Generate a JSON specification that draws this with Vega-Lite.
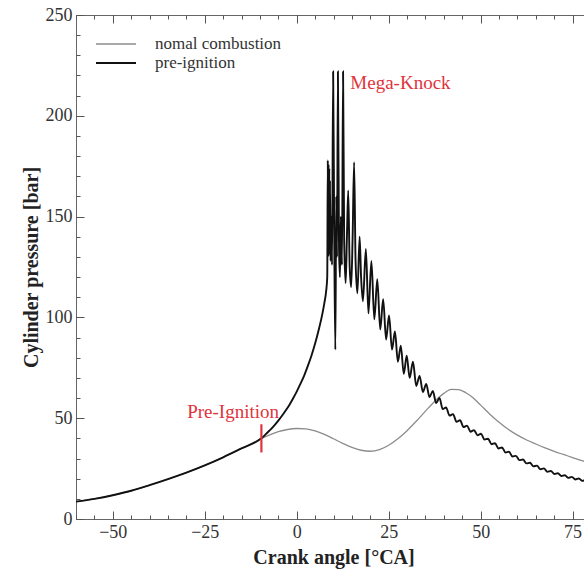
{
  "$schema": "https://vega.github.io/schema/vega-lite/v6.json",
  "width": 515,
  "height": 504,
  "autosize": {"type": "none"},
  "padding": {"left": 76, "top": 15, "right": 0, "bottom": 57},
  "background": "white",
  "config": {
    "view": {"stroke": "#666", "strokeWidth": 1},
    "axis": {"grid": false, "domain": false, "labelFont": "Liberation Serif", "labelFontSize": 18, "labelColor": "#333", "tickColor": "#555", "titleFont": "Liberation Serif", "titleFontSize": 20, "titleFontWeight": "bold", "titleColor": "#222"}
  },
  "datasets": {
    "curves": [
      {"series": "nomal combustion", "ca": -60, "p": 8.6},
      {"series": "nomal combustion", "ca": -55, "p": 10},
      {"series": "nomal combustion", "ca": -50, "p": 11.8},
      {"series": "nomal combustion", "ca": -45, "p": 14},
      {"series": "nomal combustion", "ca": -40, "p": 16.8},
      {"series": "nomal combustion", "ca": -35, "p": 19.8},
      {"series": "nomal combustion", "ca": -30, "p": 23},
      {"series": "nomal combustion", "ca": -25, "p": 26.6},
      {"series": "nomal combustion", "ca": -20, "p": 30.6},
      {"series": "nomal combustion", "ca": -15, "p": 35},
      {"series": "nomal combustion", "ca": -10, "p": 39.5},
      {"series": "nomal combustion", "ca": -7.5, "p": 41.6},
      {"series": "nomal combustion", "ca": -5, "p": 43.3},
      {"series": "nomal combustion", "ca": -2.5, "p": 44.4},
      {"series": "nomal combustion", "ca": 0, "p": 44.9},
      {"series": "nomal combustion", "ca": 2.5, "p": 44.7},
      {"series": "nomal combustion", "ca": 5, "p": 43.7},
      {"series": "nomal combustion", "ca": 7.5, "p": 42},
      {"series": "nomal combustion", "ca": 10, "p": 39.8},
      {"series": "nomal combustion", "ca": 12.5, "p": 37.5},
      {"series": "nomal combustion", "ca": 15, "p": 35.5},
      {"series": "nomal combustion", "ca": 17.5, "p": 34.1},
      {"series": "nomal combustion", "ca": 20, "p": 33.6},
      {"series": "nomal combustion", "ca": 22.5, "p": 34.4},
      {"series": "nomal combustion", "ca": 25, "p": 36.6},
      {"series": "nomal combustion", "ca": 27.5, "p": 39.8},
      {"series": "nomal combustion", "ca": 30, "p": 43.8},
      {"series": "nomal combustion", "ca": 32.5, "p": 48.5},
      {"series": "nomal combustion", "ca": 35, "p": 53.5},
      {"series": "nomal combustion", "ca": 37.5, "p": 58.3},
      {"series": "nomal combustion", "ca": 40, "p": 62.3},
      {"series": "nomal combustion", "ca": 42, "p": 64.3},
      {"series": "nomal combustion", "ca": 44, "p": 64.2},
      {"series": "nomal combustion", "ca": 46, "p": 62.6},
      {"series": "nomal combustion", "ca": 48, "p": 60},
      {"series": "nomal combustion", "ca": 50, "p": 56.5},
      {"series": "nomal combustion", "ca": 52.5, "p": 52},
      {"series": "nomal combustion", "ca": 55, "p": 48},
      {"series": "nomal combustion", "ca": 57.5, "p": 44.5},
      {"series": "nomal combustion", "ca": 60, "p": 41.6},
      {"series": "nomal combustion", "ca": 62.5, "p": 39.2},
      {"series": "nomal combustion", "ca": 65, "p": 37.2},
      {"series": "nomal combustion", "ca": 67.5, "p": 35.3},
      {"series": "nomal combustion", "ca": 70, "p": 33.5},
      {"series": "nomal combustion", "ca": 72.5, "p": 32},
      {"series": "nomal combustion", "ca": 75, "p": 30.5},
      {"series": "nomal combustion", "ca": 77.5, "p": 29},
      {"series": "nomal combustion", "ca": 80, "p": 27.6},
      {"series": "pre-ignition", "ca": -60, "p": 8.6},
      {"series": "pre-ignition", "ca": -55, "p": 10},
      {"series": "pre-ignition", "ca": -50, "p": 11.8},
      {"series": "pre-ignition", "ca": -45, "p": 14},
      {"series": "pre-ignition", "ca": -40, "p": 16.8},
      {"series": "pre-ignition", "ca": -35, "p": 19.8},
      {"series": "pre-ignition", "ca": -30, "p": 23},
      {"series": "pre-ignition", "ca": -25, "p": 26.6},
      {"series": "pre-ignition", "ca": -20, "p": 30.6},
      {"series": "pre-ignition", "ca": -15, "p": 35},
      {"series": "pre-ignition", "ca": -10, "p": 39.5},
      {"series": "pre-ignition", "ca": -9, "p": 41},
      {"series": "pre-ignition", "ca": -8, "p": 42.8},
      {"series": "pre-ignition", "ca": -7, "p": 44.6},
      {"series": "pre-ignition", "ca": -6, "p": 46.6},
      {"series": "pre-ignition", "ca": -5, "p": 48.8},
      {"series": "pre-ignition", "ca": -4, "p": 51.2},
      {"series": "pre-ignition", "ca": -3, "p": 53.8},
      {"series": "pre-ignition", "ca": -2, "p": 56.6},
      {"series": "pre-ignition", "ca": -1, "p": 59.8},
      {"series": "pre-ignition", "ca": 0, "p": 63.2},
      {"series": "pre-ignition", "ca": 1, "p": 67},
      {"series": "pre-ignition", "ca": 2, "p": 71},
      {"series": "pre-ignition", "ca": 3, "p": 75.8},
      {"series": "pre-ignition", "ca": 4, "p": 81},
      {"series": "pre-ignition", "ca": 5, "p": 87},
      {"series": "pre-ignition", "ca": 6, "p": 94},
      {"series": "pre-ignition", "ca": 7, "p": 102},
      {"series": "pre-ignition", "ca": 7.5, "p": 107},
      {"series": "pre-ignition", "ca": 8, "p": 113},
      {"series": "pre-ignition", "ca": 8.3, "p": 120},
      {"series": "pre-ignition", "ca": 8.45, "p": 178},
      {"series": "pre-ignition", "ca": 8.55, "p": 130},
      {"series": "pre-ignition", "ca": 8.65, "p": 176},
      {"series": "pre-ignition", "ca": 8.75, "p": 133},
      {"series": "pre-ignition", "ca": 8.85, "p": 174},
      {"series": "pre-ignition", "ca": 8.95, "p": 131},
      {"series": "pre-ignition", "ca": 9.05, "p": 168},
      {"series": "pre-ignition", "ca": 9.2, "p": 128},
      {"series": "pre-ignition", "ca": 9.4, "p": 150},
      {"series": "pre-ignition", "ca": 9.6, "p": 126},
      {"series": "pre-ignition", "ca": 9.9, "p": 222},
      {"series": "pre-ignition", "ca": 10.2, "p": 140},
      {"series": "pre-ignition", "ca": 10.5, "p": 84},
      {"series": "pre-ignition", "ca": 10.75, "p": 160},
      {"series": "pre-ignition", "ca": 10.95, "p": 130},
      {"series": "pre-ignition", "ca": 11.2, "p": 222},
      {"series": "pre-ignition", "ca": 11.5, "p": 135},
      {"series": "pre-ignition", "ca": 11.75, "p": 120},
      {"series": "pre-ignition", "ca": 12.0, "p": 150},
      {"series": "pre-ignition", "ca": 12.3, "p": 126},
      {"series": "pre-ignition", "ca": 12.6, "p": 222},
      {"series": "pre-ignition", "ca": 12.9, "p": 138},
      {"series": "pre-ignition", "ca": 13.3, "p": 117},
      {"series": "pre-ignition", "ca": 13.65, "p": 140},
      {"series": "pre-ignition", "ca": 14.0, "p": 163},
      {"series": "pre-ignition", "ca": 14.4, "p": 125},
      {"series": "pre-ignition", "ca": 14.8, "p": 115},
      {"series": "pre-ignition", "ca": 15.2, "p": 140},
      {"series": "pre-ignition", "ca": 15.6, "p": 177},
      {"series": "pre-ignition", "ca": 16.0, "p": 128},
      {"series": "pre-ignition", "ca": 16.5, "p": 112},
      {"series": "pre-ignition", "ca": 17.1, "p": 140},
      {"series": "pre-ignition", "ca": 17.5, "p": 120},
      {"series": "pre-ignition", "ca": 18.0, "p": 108},
      {"series": "pre-ignition", "ca": 18.8, "p": 134},
      {"series": "pre-ignition", "ca": 19.5, "p": 102},
      {"series": "pre-ignition", "ca": 20.3, "p": 128},
      {"series": "pre-ignition", "ca": 21.1, "p": 99},
      {"series": "pre-ignition", "ca": 21.9, "p": 119},
      {"series": "pre-ignition", "ca": 22.7, "p": 94},
      {"series": "pre-ignition", "ca": 23.5, "p": 109},
      {"series": "pre-ignition", "ca": 24.3, "p": 89},
      {"series": "pre-ignition", "ca": 25.1, "p": 101},
      {"series": "pre-ignition", "ca": 25.9, "p": 84},
      {"series": "pre-ignition", "ca": 26.7, "p": 93},
      {"series": "pre-ignition", "ca": 27.5, "p": 78},
      {"series": "pre-ignition", "ca": 28.3, "p": 86},
      {"series": "pre-ignition", "ca": 29.1, "p": 72},
      {"series": "pre-ignition", "ca": 29.9, "p": 81},
      {"series": "pre-ignition", "ca": 30.7, "p": 70},
      {"series": "pre-ignition", "ca": 31.6, "p": 78},
      {"series": "pre-ignition", "ca": 32.5, "p": 66},
      {"series": "pre-ignition", "ca": 33.4, "p": 71},
      {"series": "pre-ignition", "ca": 34.3, "p": 63},
      {"series": "pre-ignition", "ca": 35.2, "p": 67},
      {"series": "pre-ignition", "ca": 36.1, "p": 60.5},
      {"series": "pre-ignition", "ca": 37.0, "p": 63.5},
      {"series": "pre-ignition", "ca": 37.9, "p": 57.5},
      {"series": "pre-ignition", "ca": 38.8, "p": 60},
      {"series": "pre-ignition", "ca": 39.7, "p": 54.5},
      {"series": "pre-ignition", "ca": 40.6, "p": 55.3},
      {"series": "pre-ignition", "ca": 41.55, "p": 51.3},
      {"series": "pre-ignition", "ca": 42.5, "p": 52},
      {"series": "pre-ignition", "ca": 43.45, "p": 48.2},
      {"series": "pre-ignition", "ca": 44.4, "p": 49},
      {"series": "pre-ignition", "ca": 45.35, "p": 45.6},
      {"series": "pre-ignition", "ca": 46.3, "p": 46.3},
      {"series": "pre-ignition", "ca": 47.25, "p": 43.3},
      {"series": "pre-ignition", "ca": 48.2, "p": 44.1},
      {"series": "pre-ignition", "ca": 49.15, "p": 41.5},
      {"series": "pre-ignition", "ca": 50.1, "p": 42.3},
      {"series": "pre-ignition", "ca": 51.05, "p": 39.4},
      {"series": "pre-ignition", "ca": 52.0, "p": 39.8},
      {"series": "pre-ignition", "ca": 52.95, "p": 37.1},
      {"series": "pre-ignition", "ca": 53.9, "p": 37.6},
      {"series": "pre-ignition", "ca": 54.85, "p": 35},
      {"series": "pre-ignition", "ca": 55.8, "p": 35.5},
      {"series": "pre-ignition", "ca": 56.75, "p": 33},
      {"series": "pre-ignition", "ca": 57.7, "p": 33.4},
      {"series": "pre-ignition", "ca": 58.65, "p": 31},
      {"series": "pre-ignition", "ca": 59.6, "p": 31.3},
      {"series": "pre-ignition", "ca": 60.55, "p": 29.2},
      {"series": "pre-ignition", "ca": 61.5, "p": 29.5},
      {"series": "pre-ignition", "ca": 62.45, "p": 27.6},
      {"series": "pre-ignition", "ca": 63.4, "p": 27.9},
      {"series": "pre-ignition", "ca": 64.35, "p": 26.1},
      {"series": "pre-ignition", "ca": 65.3, "p": 26.5},
      {"series": "pre-ignition", "ca": 66.25, "p": 24.7},
      {"series": "pre-ignition", "ca": 67.2, "p": 25.1},
      {"series": "pre-ignition", "ca": 68.15, "p": 23.4},
      {"series": "pre-ignition", "ca": 69.1, "p": 23.8},
      {"series": "pre-ignition", "ca": 70.05, "p": 22.3},
      {"series": "pre-ignition", "ca": 71.0, "p": 22.7},
      {"series": "pre-ignition", "ca": 71.95, "p": 21.3},
      {"series": "pre-ignition", "ca": 72.9, "p": 21.7},
      {"series": "pre-ignition", "ca": 73.85, "p": 20.4},
      {"series": "pre-ignition", "ca": 74.8, "p": 20.9},
      {"series": "pre-ignition", "ca": 75.75, "p": 19.6},
      {"series": "pre-ignition", "ca": 76.7, "p": 20.1},
      {"series": "pre-ignition", "ca": 77.65, "p": 18.9},
      {"series": "pre-ignition", "ca": 78.6, "p": 19.4},
      {"series": "pre-ignition", "ca": 79.55, "p": 18.3},
      {"series": "pre-ignition", "ca": 80, "p": 18.5}
    ]
  },
  "layer": [
    {
      "data": {"name": "curves"},
      "mark": {"type": "line", "interpolate": "monotone", "clip": true},
      "encoding": {
        "x": {"field": "ca", "type": "quantitative", "scale": {"domain": [-60, 80], "nice": false, "zero": false},
              "axis": {"orient": "bottom", "values": [-50, -25, 0, 25, 50, 75], "tickSize": -8, "labelPadding": 12, "titlePadding": 6, "title": "Crank angle [°CA]"}},
        "y": {"field": "p", "type": "quantitative", "scale": {"domain": [0, 250], "nice": false},
              "axis": {"orient": "left", "values": [0, 50, 100, 150, 200, 250], "tickSize": -8, "labelPadding": 12, "titlePadding": 4, "title": "Cylinder pressure [bar]"}},
        "color": {"field": "series", "type": "nominal", "scale": {"domain": ["nomal combustion", "pre-ignition"], "range": ["#8c8c8c", "#111111"]},
                  "legend": {"orient": "none", "legendX": 29, "legendY": 18, "title": null, "symbolType": "M-2,0H2", "symbolSize": 400, "rowPadding": 0, "labelOffset": 28, "labelFont": "Liberation Serif", "labelFontSize": 17, "labelColor": "#333"}},
        "strokeWidth": {"field": "series", "type": "nominal", "scale": {"domain": ["nomal combustion", "pre-ignition"], "range": [1.3, 1.9]},
                  "legend": {"orient": "none", "legendX": 29, "legendY": 18, "title": null, "symbolType": "M-2,0H2", "symbolSize": 400, "rowPadding": 0, "labelOffset": 28, "labelFont": "Liberation Serif", "labelFontSize": 17, "labelColor": "#333"}}
      }
    },
    {
      "data": {"values": [{"ca": -9.6, "p": 33, "p2": 47}]},
      "mark": {"type": "rule", "color": "#e0343c", "strokeWidth": 2.2},
      "encoding": {
        "x": {"field": "ca", "type": "quantitative",
              "axis": {"orient": "bottom", "values": [-60, -55, -50, -45, -40, -35, -30, -25, -20, -15, -10, -5, 0, 5, 10, 15, 20, 25, 30, 35, 40, 45, 50, 55, 60, 65, 70, 75, 80], "tickSize": -4, "labels": false, "title": null}},
        "y": {"field": "p", "type": "quantitative",
              "axis": {"orient": "left", "values": [0, 10, 20, 30, 40, 50, 60, 70, 80, 90, 100, 110, 120, 130, 140, 150, 160, 170, 180, 190, 200, 210, 220, 230, 240, 250], "tickSize": -4, "labels": false, "title": null}},
        "y2": {"field": "p2"}
      }
    },
    {
      "data": {"values": [{"ca": -17.3, "p": 53.3, "label": "Pre-Ignition"}]},
      "mark": {"type": "text", "color": "#e0343c", "font": "Liberation Serif", "fontSize": 19, "align": "center", "baseline": "middle"},
      "encoding": {
        "x": {"field": "ca", "type": "quantitative",
              "axis": {"orient": "top", "values": [-50, -25, 0, 25, 50, 75], "tickSize": -8, "labels": false, "title": null}},
        "y": {"field": "p", "type": "quantitative", "axis": null},
        "text": {"field": "label"}
      }
    },
    {
      "data": {"values": [{"ca": 28.2, "p": 216.5, "label": "Mega-Knock"}]},
      "mark": {"type": "text", "color": "#e0343c", "font": "Liberation Serif", "fontSize": 19, "align": "center", "baseline": "middle"},
      "encoding": {
        "x": {"field": "ca", "type": "quantitative",
              "axis": {"orient": "top", "values": [-60, -55, -50, -45, -40, -35, -30, -25, -20, -15, -10, -5, 0, 5, 10, 15, 20, 25, 30, 35, 40, 45, 50, 55, 60, 65, 70, 75, 80], "tickSize": -4, "labels": false, "title": null}},
        "y": {"field": "p", "type": "quantitative", "axis": null},
        "text": {"field": "label"}
      }
    }
  ],
  "resolve": {"axis": {"x": "independent", "y": "independent"}}
}
